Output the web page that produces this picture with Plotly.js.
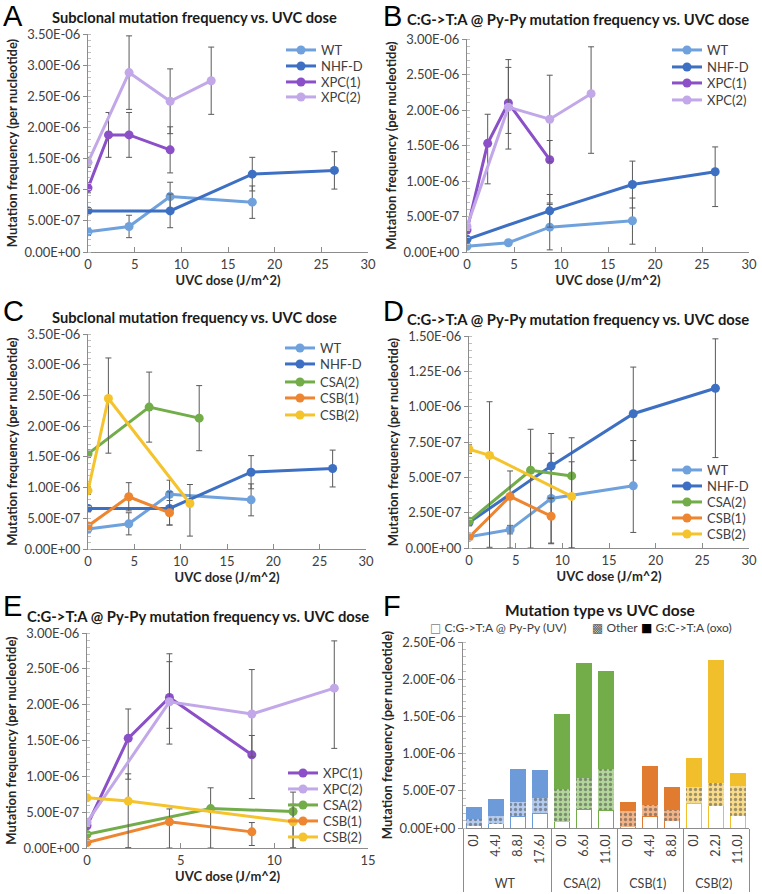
<!DOCTYPE html>
<html><head><meta charset="utf-8">
<script src="https://cdn.plot.ly/plotly-3.0.1.min.js"></script>
<style>html,body{margin:0;padding:0;background:#fff}#chart{width:762px;height:894px}</style>
</head><body><div id="chart"></div>
<script>
// ================= DATA =================
// doses (J/m^2)
const doseWT   = [0, 4.4, 8.8, 17.6];
const doseNHF  = [0, 8.8, 17.6, 26.4];
const doseXPC1 = [0, 2.2, 4.4, 8.8];
const doseXPC2 = [0, 4.4, 8.8, 13.2];
const doseCSA  = [0, 6.6, 11.0];
const doseCSAsub = [0, 6.6, 12.0];
const doseCSB1 = [0, 4.4, 8.8];
const doseCSB2 = [0, 2.2, 11.0];

// Subclonal mutation frequency (panels A, C)
const subWT      = [3.25e-7, 4.1e-7, 8.9e-7, 8.0e-7];
const subWTerr   = [0.6e-7, 1.8e-7, 2.3e-7, 2.6e-7];
const subNHF     = [6.6e-7, 6.6e-7, 1.25e-6, 1.31e-6];
const subNHFerr  = [0.5e-7, 2.7e-7, 2.7e-7, 3.0e-7];
const subXPC1    = [1.03e-6, 1.88e-6, 1.88e-6, 1.64e-6];
const subXPC1err = [0.8e-7, 3.6e-7, 3.6e-7, 3.7e-7];
const subXPC2    = [1.44e-6, 2.88e-6, 2.42e-6, 2.75e-6];
const subXPC2err = [0.8e-7, 5.9e-7, 5.2e-7, 5.4e-7];
const subCSA     = [1.55e-6, 2.31e-6, 2.13e-6];
const subCSAerr  = [0.6e-7, 5.7e-7, 5.3e-7];
const subCSB1    = [3.75e-7, 8.5e-7, 5.9e-7];
const subCSB1err = [0.5e-7, 2.3e-7, 2.0e-7];
const subCSB2      = [9.5e-7, 2.45e-6, 7.4e-7];
const subCSB2errP  = [0.6e-7, 6.6e-7, 3.1e-7];
const subCSB2errM  = [0.6e-7, 8.9e-7, 5.3e-7];

// C:G->T:A @ Py-Py mutation frequency (panels B, D, E)
const pyWT       = [0.8e-7, 1.3e-7, 3.5e-7, 4.4e-7];
const pyWTerrP   = [0.2e-7, 0.3e-7, 3.2e-7, 3.2e-7];
const pyWTerrM   = [0.2e-7, 0.3e-7, 3.2e-7, 3.3e-7];
const pyNHF      = [1.8e-7, 5.8e-7, 9.5e-7, 1.13e-6];
const pyNHFerrP  = [0.2e-7, 2.3e-7, 3.3e-7, 3.5e-7];
const pyNHFerrM  = [0.2e-7, 2.3e-7, 3.3e-7, 4.9e-7];
const pyXPC1     = [3.1e-7, 1.53e-6, 2.10e-6, 1.30e-6];
const pyXPC1errP = [0.3e-7, 4.1e-7, 6.1e-7, 2.7e-7];
const pyXPC1errM = [0.3e-7, 5.7e-7, 4.3e-7, 6.1e-7];
const pyXPC2     = [3.6e-7, 2.04e-6, 1.87e-6, 2.23e-6];
const pyXPC2errP = [0.3e-7, 5.6e-7, 6.2e-7, 6.6e-7];
const pyXPC2errM = [0.3e-7, 5.9e-7, 6.0e-7, 8.4e-7];
const pyCSA      = [1.9e-7, 5.5e-7, 5.1e-7];
const pyCSAerrP  = [0.2e-7, 2.9e-7, 2.7e-7];
const pyCSAerrM  = [0.2e-7, 5.5e-7, 5.1e-7];
const pyCSB1     = [0.75e-7, 3.65e-7, 2.25e-7];
const pyCSB1errP = [0.1e-7, 1.8e-7, 1.3e-7];
const pyCSB1errM = [0.1e-7, 3.65e-7, 1.9e-7];
const pyCSB2     = [7.0e-7, 6.55e-7, 3.65e-7];
const pyCSB2errP = [0.3e-7, 3.8e-7, 2.45e-7];
const pyCSB2errM = [0.3e-7, 6.5e-7, 3.65e-7];

// Panel F: mutation type vs UVC dose (stacked)
const fGroups = ['WT','WT','WT','WT','CSA(2)','CSA(2)','CSA(2)','CSB(1)','CSB(1)','CSB(1)','CSB(2)','CSB(2)','CSB(2)'];
const fDoses  = ['0J','4.4J','8.8J','17.6J','0J','6.6J','11.0J','0J','4.4J','8.8J','0J','2.2J','11.0J'];
const fUV     = [0.030e-6, 0.054e-6, 0.156e-6, 0.200e-6, 0.085e-6, 0.250e-6, 0.237e-6, 0.018e-6, 0.160e-6, 0.098e-6, 0.330e-6, 0.300e-6, 0.165e-6];
const fOther  = [0.090e-6, 0.111e-6, 0.188e-6, 0.206e-6, 0.437e-6, 0.424e-6, 0.558e-6, 0.214e-6, 0.153e-6, 0.139e-6, 0.220e-6, 0.300e-6, 0.400e-6];
const fOxo    = [0.166e-6, 0.225e-6, 0.446e-6, 0.374e-6, 1.005e-6, 1.546e-6, 1.321e-6, 0.121e-6, 0.527e-6, 0.308e-6, 0.388e-6, 1.660e-6, 0.175e-6];
const fLegendNames = ['C:G->T:A @ Py-Py (UV)', 'Other', 'G:C->T:A (oxo)'];

// Tick labels
const yTicks35 = ['0.00E+00','5.00E-07','1.00E-06','1.50E-06','2.00E-06','2.50E-06','3.00E-06','3.50E-06'];
const yTicks30 = ['0.00E+00','5.00E-07','1.00E-06','1.50E-06','2.00E-06','2.50E-06','3.00E-06'];
const yTicks15 = ['0.00E+00','2.50E-07','5.00E-07','7.50E-07','1.00E-06','1.25E-06','1.50E-06'];
const yTicks25 = ['0.00E+00','5.00E-07','1.00E-06','1.50E-06','2.00E-06','2.50E-06'];
const xTicks30 = ['0','5','10','15','20','25','30'];
const xTicks15 = ['0','5','10','15'];

// Titles
const titleSub = 'Subclonal mutation frequency vs. UVC dose';
const titlePy  = 'C:G->T:A @ Py-Py mutation frequency vs. UVC dose';
const titleF   = 'Mutation type vs UVC dose';
const yTitle   = 'Mutation frequency (per nucleotide)';
const xTitle   = 'UVC dose (J/m^2)';

// ================= STYLE =================
const C = {
  WT:'#6fa1dc', NHF:'#3d6fc3', XPC1:'#8b4fc8', XPC2:'#c2a8e8',
  CSA:'#72ad4a', CSB1:'#ee8530', CSB2:'#f5c32c'
};
const FONT = 'Lato, "Open Sans", sans-serif';
const fColor = {'WT':'#6d9bda','CSA(2)':'#72ad4a','CSB(1)':'#e07b30','CSB(2)':'#f1be2c'};
const fLight = {'WT':'#b3cbee','CSA(2)':'#b2d59a','CSB(1)':'#f0b488','CSB(2)':'#f7db8a'};

const W = 762, H = 894;
const px = v => v / W;
const py = v => 1 - v / H;
const TICKC = '#404040', AXC = '#8c8c8c';

const layout = {
  width:W, height:H, margin:{l:0, r:0, t:0, b:0, autoexpand:false}, paper_bgcolor:'#fff', plot_bgcolor:'rgba(0,0,0,0)',
  showlegend:true, barmode:'stack', bargap:0.28, font:{family:FONT}
};

// one Plotly legend per entry, so each entry sits where the reference puts it
let legCount = 0;
function newLegend(textX, centerY) {
  legCount++;
  const id = legCount === 1 ? 'legend' : 'legend' + legCount;
  layout[id] = {x:px(textX - 42), y:py(centerY), xanchor:'left', yanchor:'middle', bgcolor:'rgba(0,0,0,0)',
    borderwidth:0, font:{family:FONT, size:13, color:TICKC}, itemwidth:30, traceorder:'normal'};
  return id;
}

function line(name, x, y, ep, em, color, ax, lx, ly) {
  return {
    type:'scatter', mode:'lines+markers', name:name, x:x, y:y,
    xaxis:'x'+ax, yaxis:'y'+ax, legend:newLegend(lx, ly),
    line:{color:color, width:3}, marker:{color:color, size:9},
    error_y:{type:'data', symmetric:false, array:ep, arrayminus:em, color:'#5a5a5a', thickness:1, width:3}
  };
}
const A='', B='2', Cc='3', D='4', E='5';
const traces = [
  line('WT', doseWT, subWT, subWTerr, subWTerr, C.WT, A, 323, 50),
  line('NHF-D', doseNHF, subNHF, subNHFerr, subNHFerr, C.NHF, A, 323, 66),
  line('XPC(1)', doseXPC1, subXPC1, subXPC1err, subXPC1err, C.XPC1, A, 323, 82),
  line('XPC(2)', doseXPC2, subXPC2, subXPC2err, subXPC2err, C.XPC2, A, 323, 97),

  line('WT', doseWT, pyWT, pyWTerrP, pyWTerrM, C.WT, B, 709, 50),
  line('NHF-D', doseNHF, pyNHF, pyNHFerrP, pyNHFerrM, C.NHF, B, 709, 67),
  line('XPC(1)', doseXPC1, pyXPC1, pyXPC1errP, pyXPC1errM, C.XPC1, B, 709, 83),
  line('XPC(2)', doseXPC2, pyXPC2, pyXPC2errP, pyXPC2errM, C.XPC2, B, 709, 100),

  line('WT', doseWT, subWT, subWTerr, subWTerr, C.WT, Cc, 322, 348),
  line('NHF-D', doseNHF, subNHF, subNHFerr, subNHFerr, C.NHF, Cc, 322, 364),
  line('CSA(2)', doseCSAsub, subCSA, subCSAerr, subCSAerr, C.CSA, Cc, 322, 382),
  line('CSB(1)', doseCSB1, subCSB1, subCSB1err, subCSB1err, C.CSB1, Cc, 322, 398),
  line('CSB(2)', doseCSB2, subCSB2, subCSB2errP, subCSB2errM, C.CSB2, Cc, 322, 415),

  line('WT', doseWT, pyWT, pyWTerrP, pyWTerrM, C.WT, D, 709, 470),
  line('NHF-D', doseNHF, pyNHF, pyNHFerrP, pyNHFerrM, C.NHF, D, 709, 486),
  line('CSA(2)', doseCSA, pyCSA, pyCSAerrP, pyCSAerrM, C.CSA, D, 709, 502),
  line('CSB(1)', doseCSB1, pyCSB1, pyCSB1errP, pyCSB1errM, C.CSB1, D, 709, 518),
  line('CSB(2)', doseCSB2, pyCSB2, pyCSB2errP, pyCSB2errM, C.CSB2, D, 709, 534),

  line('XPC(1)', doseXPC1, pyXPC1, pyXPC1errP, pyXPC1errM, C.XPC1, E, 325, 773),
  line('XPC(2)', doseXPC2, pyXPC2, pyXPC2errP, pyXPC2errM, C.XPC2, E, 325, 789),
  line('CSA(2)', doseCSA, pyCSA, pyCSAerrP, pyCSAerrM, C.CSA, E, 325, 805),
  line('CSB(1)', doseCSB1, pyCSB1, pyCSB1errP, pyCSB1errM, C.CSB1, E, 325, 821),
  line('CSB(2)', doseCSB2, pyCSB2, pyCSB2errP, pyCSB2errM, C.CSB2, E, 325, 837),
];

// Panel F bars. Plotly orders the inner categories of a multicategory axis by first appearance,
// so feed the points in dose order (group order is kept because every group starts at 0J).
const ord = fDoses.map((d, i) => i).sort((a, b) => parseFloat(fDoses[a]) - parseFloat(fDoses[b]) || a - b);
const pick = arr => ord.map(i => arr[i]);
const fx = [pick(fGroups), pick(fDoses)];
const gOrd = pick(fGroups);
traces.push({type:'bar', name:fLegendNames[0], x:fx, y:pick(fUV), xaxis:'x6', yaxis:'y6', showlegend:false,
  marker:{color:'#ffffff', line:{color:gOrd.map(g=>fColor[g]), width:1}}});
traces.push({type:'bar', name:fLegendNames[1], x:fx, y:pick(fOther), xaxis:'x6', yaxis:'y6', showlegend:false,
  marker:{color:gOrd.map(g=>fLight[g]), line:{width:0},
    pattern:{shape:'.', fillmode:'overlay', fgcolor:'#ffffff', size:5, solidity:0.35}}});
traces.push({type:'bar', name:fLegendNames[2], x:fx, y:pick(fOxo), xaxis:'x6', yaxis:'y6', showlegend:false,
  marker:{color:gOrd.map(g=>fColor[g]), line:{width:0}}});

// ================= AXES =================
function xax(x0, x1, anchor, labels) {
  const vals = labels.map(parseFloat);
  return {domain:[px(x0), px(x1)], anchor:anchor, range:[vals[0], vals[vals.length-1]],
    tickvals:vals, ticktext:labels, showgrid:false, zeroline:false, showline:true, linecolor:AXC, linewidth:1,
    ticks:'inside', ticklen:5, tickcolor:AXC, tickfont:{family:FONT, size:13, color:TICKC},
    title:{text:xTitle, font:{family:FONT, size:13, color:'#262626', weight:'bold'}, standoff:2}};
}
function yax(y0, y1, anchor, labels, minorStep) {
  const vals = labels.map(parseFloat);
  return {domain:[py(y1), py(y0)], anchor:anchor, range:[vals[0], vals[vals.length-1]],
    tickvals:vals, ticktext:labels, showgrid:false, zeroline:false, showline:true, linecolor:AXC, linewidth:1,
    ticks:'outside', ticklen:4, tickcolor:AXC, tickfont:{family:FONT, size:13, color:TICKC},
    minor:{dtick:minorStep, ticks:'inside', ticklen:3, tickcolor:'#bfbfbf', showgrid:false},
    title:{text:yTitle, font:{family:FONT, size:13, color:'#262626', weight:'bold'}, standoff:4}};
}
function ann(text, x, y, size) {
  return {text:text, xref:'paper', yref:'paper', x:px(x), y:py(y), xanchor:'center', yanchor:'middle',
    showarrow:false, font:{family:FONT, size:size, color:'#1a1a1a', weight:'bold'}};
}
function letter(t, x, y) {
  return {text:t, xref:'paper', yref:'paper', x:px(x), y:py(y), xanchor:'left', yanchor:'middle',
    showarrow:false, font:{family:'Liberation Sans, Arial, sans-serif', size:29, color:'#000'}};
}
function keyItem(glyph, glyphColor, label, x, y) {
  return {text:'<span style="color:' + glyphColor + ';font-family:DejaVu Sans">' + glyph + '</span> ' + label,
    xref:'paper', yref:'paper', x:px(x), y:py(y), xanchor:'left', yanchor:'middle', showarrow:false,
    font:{family:FONT, size:12, color:TICKC}};
}

Object.assign(layout, {
  xaxis:  xax(88, 368, 'y', xTicks30),
  yaxis:  yax(34, 252, 'x', yTicks35, 1e-7),
  xaxis2: xax(467, 749, 'y2', xTicks30),
  yaxis2: yax(39, 252, 'x2', yTicks30, 1e-7),
  xaxis3: xax(88, 366, 'y3', xTicks30),
  yaxis3: yax(334, 549, 'x3', yTicks35, 1e-7),
  xaxis4: xax(469, 749, 'y4', xTicks30),
  yaxis4: yax(336, 548, 'x4', yTicks15, 5e-8),
  xaxis5: xax(87, 368, 'y5', xTicks15),
  yaxis5: yax(633, 848, 'x5', yTicks30, 1e-7),
  xaxis6: {domain:[px(463), px(749)], anchor:'y6', type:'multicategory', tickangle:-90,
    showgrid:false, zeroline:false, showline:true, linecolor:AXC, showdividers:true, dividercolor:AXC, dividerwidth:1,
    ticks:'', tickfont:{family:FONT, size:12.5, color:TICKC}},
  yaxis6: yax(642, 828, 'x6', yTicks25, 1e-7),
  annotations:[
    letter('A', 1, 16), letter('B', 381, 16), letter('C', 1, 311), letter('D', 381, 311), letter('E', 1, 606), letter('F', 381, 606),
    ann(titleSub, 194, 17, 14.7), ann(titlePy, 578, 19, 14.8),
    ann(titleSub, 194, 317, 14.7), ann(titlePy, 578, 319, 14.8),
    ann(titlePy, 198, 616, 14.8), ann(titleF, 600, 610, 15.5),
    keyItem('\u25A1', '#7f7f7f', fLegendNames[0], 428, 627),
    keyItem('\u25A9', '#595959', fLegendNames[1], 590, 627),
    keyItem('\u25A0', '#000000', fLegendNames[2], 639, 627)
  ]
});

Plotly.newPlot('chart', traces, layout, {displayModeBar:false, staticPlot:true});
</script></body></html>
